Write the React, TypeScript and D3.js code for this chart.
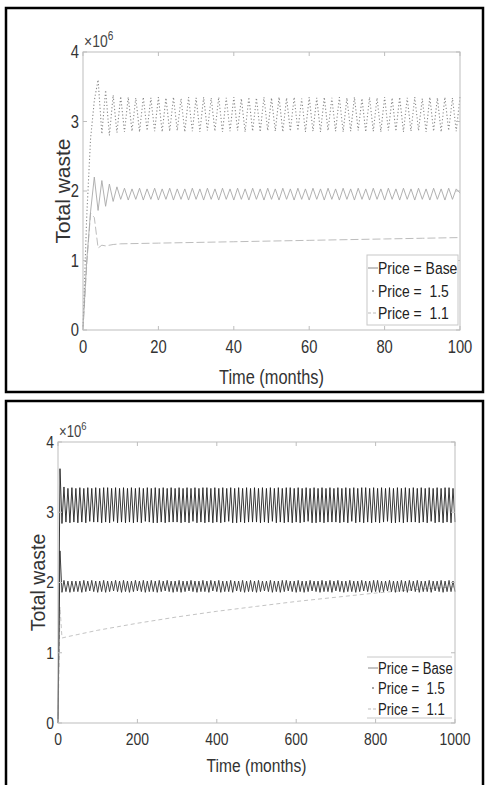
import React from "react";
import * as d3 from "d3";

// ---------- DATA (values in units of 10^6) ----------
const Y_TICKS = [0, 1, 2, 3, 4];
const P1_X_TICKS = [0, 20, 40, 60, 80, 100];
const P2_X_TICKS = [0, 200, 400, 600, 800, 1000];
const LEGEND_LABELS = ["Price = Base", "Price =  1.5", "Price =  1.1"];

// Panel 1: monthly, 0..100
const P1_MONTHS = d3.range(0, 101);
const P1_PRICE15 = [
  0.05, 1.65, 2.75, 3.3, 3.6, 2.82, 3.45, 2.8, 3.38, 2.84,
  3.36, 2.85, 3.35, 2.86, 3.34, 2.85, 3.35, 2.87, 3.34, 2.86,
  3.35, 2.85, 3.34, 2.86, 3.35, 2.87, 3.33, 2.85, 3.35, 2.86,
  3.34, 2.85, 3.35, 2.87, 3.34, 2.86, 3.35, 2.85, 3.34, 2.86,
  3.35, 2.87, 3.33, 2.85, 3.35, 2.86, 3.34, 2.85, 3.35, 2.87,
  3.34, 2.86, 3.35, 2.85, 3.34, 2.86, 3.35, 2.87, 3.33, 2.85,
  3.35, 2.86, 3.34, 2.85, 3.35, 2.87, 3.34, 2.86, 3.35, 2.85,
  3.34, 2.86, 3.35, 2.87, 3.33, 2.85, 3.35, 2.86, 3.34, 2.85,
  3.35, 2.87, 3.34, 2.86, 3.35, 2.85, 3.34, 2.86, 3.35, 2.87,
  3.33, 2.85, 3.35, 2.86, 3.34, 2.85, 3.35, 2.87, 3.34, 2.86,
  3.35,
];
const P1_BASE = [
  0.05, 1.0, 1.7, 2.2, 1.72, 2.15, 1.78, 2.1, 1.85, 2.06,
  1.88, 2.04, 1.87, 2.03, 1.88, 2.04, 1.87, 2.03, 1.88, 2.04,
  1.87, 2.03, 1.88, 2.04, 1.87, 2.03, 1.88, 2.03, 1.87, 2.04,
  1.88, 2.03, 1.87, 2.04, 1.88, 2.03, 1.87, 2.04, 1.88, 2.03,
  1.87, 2.04, 1.88, 2.03, 1.87, 2.04, 1.88, 2.03, 1.87, 2.04,
  1.88, 2.03, 1.87, 2.04, 1.88, 2.03, 1.87, 2.04, 1.88, 2.03,
  1.87, 2.04, 1.88, 2.03, 1.87, 2.04, 1.88, 2.03, 1.87, 2.04,
  1.88, 2.03, 1.87, 2.04, 1.88, 2.03, 1.87, 2.04, 1.88, 2.03,
  1.87, 2.04, 1.88, 2.03, 1.87, 2.04, 1.88, 2.03, 1.87, 2.04,
  1.88, 2.03, 1.87, 2.04, 1.88, 2.03, 1.87, 2.04, 1.88, 2.03,
  1.97,
];
const P1_PRICE11_MONTHS = [0, 1, 2, 3, 4, 5, 6, 8, 10, 20, 30, 40, 50, 60, 70, 80, 90, 100];
const P1_PRICE11 = [0, 0.95, 1.68, 1.62, 1.18, 1.22, 1.21, 1.23, 1.24, 1.25, 1.26, 1.27, 1.28, 1.29, 1.3, 1.31, 1.32, 1.33];

// Panel 2: sampled every 5 months, 0..1000
const P2_MONTHS = d3.range(0, 1001, 5);
const P2_PRICE15 = [
  0, 3.62, 2.84, 3.36, 2.86, 3.34, 2.85, 3.35, 2.86, 3.34,
  2.85, 3.35, 2.86, 3.34, 2.85, 3.35, 2.87, 3.34, 2.86, 3.35,
  2.86, 3.34, 2.85, 3.35, 2.86, 3.35, 2.85, 3.34, 2.87, 3.35,
  2.85, 3.34, 2.86, 3.35, 2.85, 3.34, 2.86, 3.35, 2.85, 3.34,
  2.86, 3.35, 2.85, 3.34, 2.87, 3.35, 2.86, 3.34, 2.85, 3.35,
  2.85, 3.34, 2.86, 3.35, 2.85, 3.34, 2.86, 3.35, 2.86, 3.34,
  2.86, 3.35, 2.85, 3.34, 2.86, 3.35, 2.85, 3.34, 2.87, 3.35,
  2.85, 3.34, 2.86, 3.35, 2.85, 3.35, 2.86, 3.34, 2.85, 3.35,
  2.86, 3.34, 2.85, 3.35, 2.86, 3.34, 2.87, 3.35, 2.85, 3.34,
  2.85, 3.35, 2.86, 3.34, 2.85, 3.35, 2.86, 3.34, 2.86, 3.35,
  2.86, 3.34, 2.85, 3.35, 2.86, 3.34, 2.85, 3.35, 2.87, 3.34,
  2.85, 3.35, 2.86, 3.34, 2.85, 3.35, 2.86, 3.35, 2.85, 3.34,
  2.86, 3.35, 2.85, 3.34, 2.86, 3.35, 2.87, 3.34, 2.85, 3.35,
  2.85, 3.34, 2.86, 3.35, 2.85, 3.34, 2.86, 3.35, 2.86, 3.34,
  2.86, 3.35, 2.85, 3.34, 2.86, 3.35, 2.85, 3.34, 2.87, 3.35,
  2.85, 3.34, 2.86, 3.35, 2.85, 3.35, 2.86, 3.34, 2.85, 3.35,
  2.86, 3.34, 2.85, 3.35, 2.86, 3.34, 2.87, 3.35, 2.85, 3.34,
  2.85, 3.35, 2.86, 3.34, 2.85, 3.35, 2.86, 3.34, 2.86, 3.35,
  2.86, 3.34, 2.85, 3.35, 2.86, 3.34, 2.85, 3.35, 2.87, 3.34,
  2.85, 3.35, 2.86, 3.34, 2.85, 3.35, 2.86, 3.35, 2.85, 3.34,
  2.86,
];
const P2_BASE = [
  0, 2.45, 1.86, 2.03, 1.87, 2.02, 1.86, 2.02, 1.87, 2.02,
  1.87, 2.02, 1.86, 2.03, 1.87, 2.02, 1.88, 2.03, 1.87, 2.02,
  1.86, 2.02, 1.87, 2.03, 1.86, 2.02, 1.87, 2.02, 1.88, 2.03,
  1.87, 2.02, 1.86, 2.03, 1.87, 2.02, 1.86, 2.02, 1.87, 2.03,
  1.88, 2.02, 1.87, 2.03, 1.86, 2.02, 1.87, 2.03, 1.87, 2.02,
  1.86, 2.03, 1.87, 2.02, 1.88, 2.03, 1.87, 2.02, 1.86, 2.02,
  1.87, 2.03, 1.86, 2.02, 1.87, 2.02, 1.88, 2.03, 1.87, 2.02,
  1.86, 2.02, 1.87, 2.03, 1.87, 2.02, 1.86, 2.03, 1.88, 2.02,
  1.87, 2.03, 1.86, 2.02, 1.87, 2.02, 1.87, 2.03, 1.86, 2.02,
  1.88, 2.02, 1.87, 2.03, 1.86, 2.02, 1.87, 2.03, 1.87, 2.02,
  1.86, 2.03, 1.87, 2.02, 1.88, 2.02, 1.87, 2.03, 1.86, 2.02,
  1.87, 2.02, 1.86, 2.03, 1.87, 2.03, 1.88, 2.02, 1.87, 2.02,
  1.86, 2.03, 1.87, 2.02, 1.86, 2.02, 1.87, 2.03, 1.88, 2.02,
  1.87, 2.02, 1.86, 2.03, 1.87, 2.02, 1.87, 2.03, 1.86, 2.02,
  1.88, 2.03, 1.87, 2.02, 1.86, 2.02, 1.87, 2.03, 1.87, 2.02,
  1.86, 2.02, 1.87, 2.03, 1.88, 2.02, 1.87, 2.02, 1.86, 2.03,
  1.87, 2.03, 1.86, 2.02, 1.87, 2.02, 1.88, 2.03, 1.87, 2.02,
  1.86, 2.02, 1.87, 2.03, 1.87, 2.02, 1.86, 2.03, 1.88, 2.02,
  1.87, 2.03, 1.86, 2.02, 1.87, 2.02, 1.87, 2.03, 1.86, 2.02,
  1.88, 2.02, 1.87, 2.03, 1.86, 2.02, 1.87, 2.03, 1.87, 2.02,
  1.87,
];
const P2_PRICE11_MONTHS = [0, 5, 10, 25, 50, 100, 150, 200, 300, 400, 500, 600, 700, 800, 900, 1000];
const P2_PRICE11 = [0, 1.65, 1.21, 1.23, 1.26, 1.32, 1.37, 1.42, 1.51, 1.59, 1.66, 1.73, 1.79, 1.85, 1.9, 1.94];

// ---------- RENDERING ----------
const FONT = "'Liberation Sans', Arial, sans-serif";
const SQUEEZE = 0.82;

function NText(props: {
  x: number;
  y: number;
  size: number;
  anchor?: "start" | "middle" | "end";
  dy?: string;
  fill?: string;
  children: React.ReactNode;
}) {
  return (
    <text
      transform={`translate(${props.x},${props.y}) scale(${SQUEEZE},1)`}
      textAnchor={props.anchor || "start"}
      dy={props.dy}
      fontFamily={FONT}
      fontSize={props.size}
      fill={props.fill || "#333"}
      style={{ whiteSpace: "pre" }}
    >
      {props.children}
    </text>
  );
}

type Series = { x: number[]; y: number[]; stroke: string; width: number; dash?: string };

type PanelProps = {
  frame: { x: number; y: number; w: number; h: number };
  plot: { l: number; r: number; t: number; b: number };
  xMax: number;
  xTicks: number[];
  series: Series[];
  tickSize: number;
  titleSize: number;
  yTitleSize: number;
  yTitleX: number;
  xTitleY: number;
  legend: { x: number; y: number; w: number; h: number; size: number; rows: number[]; sideLines: boolean };
  legendStyles: { stroke: string; dash?: string; dot?: boolean }[];
  expSize: number;
};

function Panel(p: PanelProps) {
  const x = d3.scaleLinear().domain([0, p.xMax]).range([p.plot.l, p.plot.r]);
  const y = d3.scaleLinear().domain([0, 4]).range([p.plot.b, p.plot.t]);
  const line = d3.line<[number, number]>().x((d) => x(d[0])).y((d) => y(d[1]));
  const axisColor = "#bdbdbd";
  const tl = 4;
  const lg = p.legend;
  return (
    <g>
      <rect x={p.frame.x} y={p.frame.y} width={p.frame.w} height={p.frame.h} fill="#fff" stroke="#000" strokeWidth={2.5} />
      {p.series.map((s, i) => (
        <path
          key={i}
          d={line(s.x.map((v, j) => [v, s.y[j]] as [number, number])) || ""}
          fill="none"
          stroke={s.stroke}
          strokeWidth={s.width}
          strokeDasharray={s.dash}
        />
      ))}
      <rect x={p.plot.l} y={p.plot.t} width={p.plot.r - p.plot.l} height={p.plot.b - p.plot.t} fill="none" stroke={axisColor} strokeWidth={1} />
      {p.xTicks.map((t) => (
        <g key={"x" + t}>
          <line x1={x(t)} x2={x(t)} y1={p.plot.b} y2={p.plot.b - tl} stroke={axisColor} />
          <line x1={x(t)} x2={x(t)} y1={p.plot.t} y2={p.plot.t + tl} stroke={axisColor} />
          <NText x={x(t)} y={p.plot.b + 6} dy="0.95em" anchor="middle" size={p.tickSize}>
            {t}
          </NText>
        </g>
      ))}
      {Y_TICKS.map((t) => (
        <g key={"y" + t}>
          <line x1={p.plot.l} x2={p.plot.l + tl} y1={y(t)} y2={y(t)} stroke={axisColor} />
          <line x1={p.plot.r} x2={p.plot.r - tl} y1={y(t)} y2={y(t)} stroke={axisColor} />
          <NText x={p.plot.l - 4} y={y(t)} dy="0.35em" anchor="end" size={p.tickSize}>
            {t}
          </NText>
        </g>
      ))}
      <text
        transform={`translate(${p.plot.l + 1},${p.plot.t - 5}) scale(${SQUEEZE},1)`}
        fontFamily={FONT}
        fontSize={p.expSize}
        fill="#444"
      >
        ×10
        <tspan dy={-7} fontSize={p.expSize * 0.72}>6</tspan>
      </text>
      <NText x={(p.plot.l + p.plot.r) / 2} y={p.xTitleY} anchor="middle" size={p.titleSize}>
        Time (months)
      </NText>
      <text
        transform={`translate(${p.yTitleX},${(p.plot.t + p.plot.b) / 2}) rotate(-90)`}
        textAnchor="middle"
        dy="0.35em"
        fontFamily={FONT}
        fontSize={p.yTitleSize}
        fill="#333"
      >
        Total waste
      </text>
      <g>
        <rect x={lg.x} y={lg.y} width={lg.w} height={lg.h} fill="#fff" stroke={lg.sideLines ? "#c8c8c8" : "none"} />
        {!lg.sideLines && (
          <g>
            <line x1={lg.x} x2={lg.x + lg.w} y1={lg.y} y2={lg.y} stroke="#c8c8c8" />
            <line x1={lg.x} x2={lg.x + lg.w} y1={lg.y + lg.h} y2={lg.y + lg.h} stroke="#c8c8c8" />
          </g>
        )}
        {LEGEND_LABELS.map((lab, i) => {
          const ry = lg.rows[i];
          const st = p.legendStyles[i];
          return (
            <g key={lab}>
              {st.dot ? (
                <circle cx={lg.x + 6} cy={ry} r={1} fill={st.stroke} />
              ) : (
                <line x1={lg.x + 1} x2={lg.x + 11} y1={ry} y2={ry} stroke={st.stroke} strokeDasharray={st.dash} />
              )}
              <NText x={lg.x + 11} y={ry} dy="0.35em" size={lg.size} fill="#222">
                {lab}
              </NText>
            </g>
          );
        })}
      </g>
    </g>
  );
}

export default function App() {
  return (
    <svg width={485} height={785} style={{ position: "absolute", left: 0, top: 0, background: "#fff" }}>
      <rect x={0} y={0} width={485} height={785} fill="#fff" />
      <Panel
        frame={{ x: 6, y: 8, w: 477, h: 384 }}
        plot={{ l: 83, r: 460, t: 52, b: 330 }}
        xMax={100}
        xTicks={P1_X_TICKS}
        series={[
          { x: P1_PRICE11_MONTHS, y: P1_PRICE11, stroke: "#bdbdbd", width: 1, dash: "8,3" },
          { x: P1_MONTHS, y: P1_BASE, stroke: "#a8a8a8", width: 0.9 },
          { x: P1_MONTHS, y: P1_PRICE15, stroke: "#8a8a8a", width: 1.1, dash: "1.2,2.2" },
        ]}
        tickSize={18}
        titleSize={20}
        yTitleSize={21}
        yTitleX={63}
        xTitleY={384}
        legend={{ x: 367, y: 255, w: 91, h: 70, size: 17, rows: [268, 291, 313], sideLines: true }}
        legendStyles={[{ stroke: "#888" }, { stroke: "#888", dot: true }, { stroke: "#bbb", dash: "3,2" }]}
        expSize={17}
      />
      <Panel
        frame={{ x: 6, y: 401, w: 477, h: 390 }}
        plot={{ l: 58, r: 455, t: 442, b: 723 }}
        xMax={1000}
        xTicks={P2_X_TICKS}
        series={[
          { x: P2_PRICE11_MONTHS, y: P2_PRICE11, stroke: "#c4c4c4", width: 1, dash: "4,3" },
          { x: P2_MONTHS, y: P2_BASE, stroke: "#333", width: 0.9 },
          { x: P2_MONTHS, y: P2_PRICE15, stroke: "#222", width: 0.9 },
        ]}
        tickSize={17}
        titleSize={19}
        yTitleSize={19.5}
        yTitleX={38}
        xTitleY={772}
        legend={{ x: 367, y: 657, w: 85, h: 61, size: 16, rows: [668, 688, 709], sideLines: false }}
        legendStyles={[{ stroke: "#888" }, { stroke: "#888", dot: true }, { stroke: "#bbb", dash: "3,2" }]}
        expSize={16}
      />
    </svg>
  );
}
